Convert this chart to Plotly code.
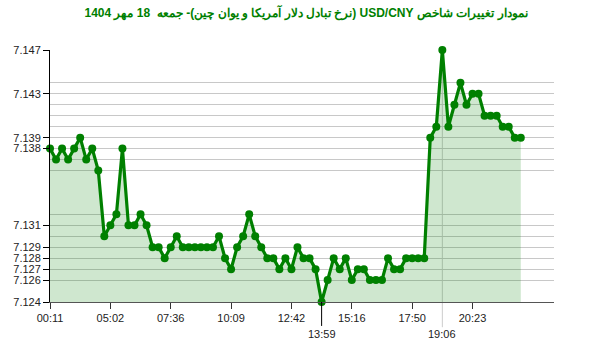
import plotly.graph_objects as go

title_text = "نمودار تغییرات شاخص USD/CNY (نرخ تبادل دلار آمریکا و یوان چین)- جمعه  18 مهر 1404"

values = [
    7.138, 7.137, 7.138, 7.137, 7.138, 7.139, 7.137, 7.138, 7.136, 7.130,
    7.131, 7.132, 7.138, 7.131, 7.131, 7.132, 7.131, 7.129, 7.129, 7.128,
    7.129, 7.130, 7.129, 7.129, 7.129, 7.129, 7.129, 7.129, 7.130, 7.128,
    7.127, 7.129, 7.130, 7.132, 7.130, 7.129, 7.128, 7.128, 7.127, 7.128,
    7.127, 7.129, 7.128, 7.128, 7.127, 7.124, 7.126, 7.128, 7.127, 7.128,
    7.126, 7.127, 7.127, 7.126, 7.126, 7.126, 7.128, 7.127, 7.127, 7.128,
    7.128, 7.128, 7.128, 7.139, 7.140, 7.147, 7.140, 7.142, 7.144, 7.142,
    7.143, 7.143, 7.141, 7.141, 7.141, 7.140, 7.140, 7.139, 7.139,
]
x_idx = list(range(len(values)))

x_tick_pos = [0, 10, 20, 30, 40, 50, 60, 70]
x_tick_labels = ["00:11", "05:02", "07:36", "10:09", "12:42", "15:16", "17:50", "20:23"]
min_idx, min_label = 45, "13:59"
max_idx, max_label = 65, "19:06"

y_tick_vals = [7.124, 7.126, 7.127, 7.128, 7.129, 7.131, 7.138, 7.139, 7.143, 7.147]
y_tick_text = ["7.124", "7.126", "7.127", "7.128", "7.129", "7.131", "7.138", "7.139", "7.143", "7.147"]
grid_vals = sorted(set(values))

y_min, y_max = 7.124, 7.147
x_range = [0, 83.5]

green = "#008000"
fill = "rgba(0,128,0,0.19)"
font_fam = "Liberation Sans, Arial, sans-serif"

fig = go.Figure()
fig.add_trace(go.Scatter(
    x=x_idx, y=values, mode="lines+markers",
    line=dict(color=green, width=3.2),
    marker=dict(color=green, size=8),
    fill="tozeroy", fillcolor=fill,
    cliponaxis=False,
    hoverinfo="skip",
))

def pf(v):
    return (v - y_min) / (y_max - y_min)

shapes = [
    dict(type="line", xref="x", yref="paper", x0=max_idx, x1=max_idx,
         y0=pf(values[max_idx]), y1=-0.1, line=dict(color="#cccccc", width=1), layer="below"),
    dict(type="line", xref="x", yref="paper", x0=min_idx, x1=min_idx,
         y0=0, y1=-0.095, line=dict(color="#000000", width=1)),
]
annotations = [
    dict(text=min_label, x=min_idx, xref="x", y=-0.097, yref="paper", yanchor="top",
         showarrow=False, font=dict(family=font_fam, size=11, color="#222222")),
    dict(text=max_label, x=max_idx, xref="x", y=-0.097, yref="paper", yanchor="top",
         showarrow=False, font=dict(family=font_fam, size=11, color="#222222")),
]

fig.update_layout(
    width=600, height=352,
    margin=dict(l=50, r=46, t=50, b=50),
    paper_bgcolor="white", plot_bgcolor="white",
    showlegend=False,
    title=dict(text="<b>\u202B" + title_text + "\u202C</b>", x=0.51, xanchor="center", y=0.965, yanchor="middle",
               font=dict(family=font_fam, size=12, color=green)),
    xaxis=dict(range=x_range, tickmode="array", tickvals=x_tick_pos, ticktext=x_tick_labels,
               showgrid=False, zeroline=False, showline=True, linecolor="#555555", linewidth=1,
               ticks="outside", ticklen=6, tickcolor="#333333",
               tickfont=dict(family=font_fam, size=11, color="#222222")),
    yaxis=dict(range=[y_min, y_max], tickmode="array", tickvals=y_tick_vals, ticktext=y_tick_text,
               showgrid=True, gridcolor="#c8c8c8", gridwidth=1, zeroline=False,
               showline=True, linecolor="#000000", linewidth=1,
               ticks="outside", ticklen=6, tickcolor="#000000",
               tickfont=dict(family=font_fam, size=11, color="#222222"),
               minor=dict(tickmode="array", tickvals=grid_vals, showgrid=True,
                          gridcolor="#c8c8c8", gridwidth=1, ticks="")),
    shapes=shapes, annotations=annotations,
)

fig.write_html("out.html")
